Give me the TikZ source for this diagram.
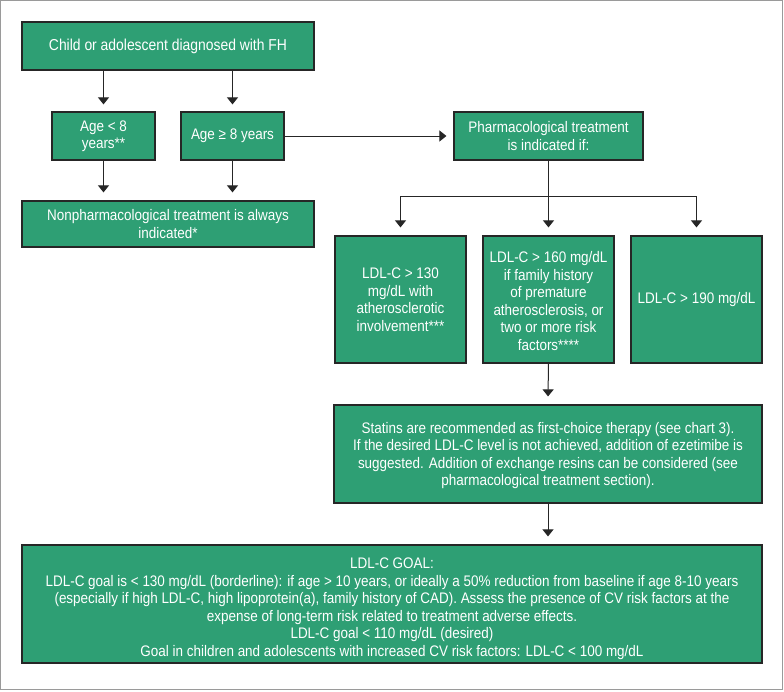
\documentclass[tikz,border=0pt]{standalone}
\usepackage{fontspec}
\setmainfont{Liberation Sans}[FakeStretch=0.88]
\usetikzlibrary{arrows.meta}
\definecolor{boxgreen}{HTML}{2E9F74}
\definecolor{frame}{HTML}{9A9A9A}
\begin{document}
\begin{tikzpicture}[x=1pt,y=-1pt,
  gbox/.style={draw=black!85,line width=1.2pt,fill=boxgreen,text=white,inner sep=2pt,align=center,
    font=\fontsize{15.3}{17.5}\selectfont},
  arr/.style={line width=1pt,draw=black!85,-{Triangle[width=11pt,length=7pt]}},
  ln/.style={line width=1pt,draw=black!85}]
\useasboundingbox (0,0) rectangle (784,691);
\draw[frame,line width=1pt] (0.5,0.5) rectangle (782.5,689.5);

\node[gbox,minimum width=292pt,minimum height=48pt,font=\fontsize{15.8}{17.5}\selectfont] (top) at (168,46) {Child or adolescent diagnosed with FH};
\node[gbox,minimum width=103pt,minimum height=48pt] (a8) at (103.5,136) {Age < 8\\years**};
\node[gbox,minimum width=103pt,minimum height=48pt] (ag8) at (232.5,136) {Age ≥ 8 years};
\node[gbox,minimum width=292pt,minimum height=46pt] (np) at (168,224) {Nonpharmacological treatment is always\\indicated*};
\node[gbox,minimum width=189pt,minimum height=48pt] (ph) at (548.5,136) {Pharmacological treatment\\is indicated if:};
\node[gbox,minimum width=131pt,minimum height=127pt] (b1) at (400.5,299.5) {LDL-C > 130\\mg/dL with\\atherosclerotic\\involvement***};
\node[gbox,minimum width=131pt,minimum height=127pt] (b2) at (548.5,299.5) {\rule{0pt}{14pt}LDL-C > 160 mg/dL\\if family history\\of premature\\atherosclerosis, or\\two or more risk\\factors****};
\node[gbox,minimum width=131pt,minimum height=127pt] (b3) at (696.5,299.5) {LDL-C > 190 mg/dL};
\node[gbox,minimum width=428pt,minimum height=98pt] (st) at (548,454) {\rule{0pt}{14pt}Statins are recommended as first-choice therapy (see chart 3).\\If the desired LDL-C level is not achieved, addition of ezetimibe is\\suggested. Addition of exchange resins can be considered (see\\pharmacological treatment section).};
\node[gbox,minimum width=740pt,minimum height=118pt] (goal) at (392,604) {\rule{0pt}{20pt}LDL-C GOAL:\\LDL-C goal is < 130 mg/dL (borderline): if age > 10 years, or ideally a 50\% reduction from baseline if age 8-10 years\\(especially if high LDL-C, high lipoprotein(a), family history of CAD). Assess the presence of CV risk factors at the\\expense of long-term risk related to treatment adverse effects.\\LDL-C goal < 110 mg/dL (desired)\\Goal in children and adolescents with increased CV risk factors: LDL-C < 100 mg/dL};

\draw[arr] (top.south -| a8) -- ([yshift=7pt]a8.north);
\draw[arr] (top.south -| ag8) -- ([yshift=7pt]ag8.north);
\draw[arr] (a8.south) -- ([yshift=8pt]a8.south |- np.north);
\draw[arr] (ag8.south) -- ([yshift=8pt]ag8.south |- np.north);
\draw[arr] (ag8.east) -- ([xshift=-7pt]ph.west);
\coordinate (spl) at (548.5,196);
\draw[ln] (ph.south) -- (spl);
\draw[arr] (spl) -| ([yshift=8pt]b1.north);
\draw[arr] (spl) -| ([yshift=8pt]b3.north);
\draw[arr] (spl) -- ([yshift=8pt]b2.north);
\draw[arr] (b2.south) -- ([yshift=8pt]st.north);
\draw[arr] (st.south) -- ([yshift=8pt]st.south |- goal.north);
\end{tikzpicture}
\end{document}
